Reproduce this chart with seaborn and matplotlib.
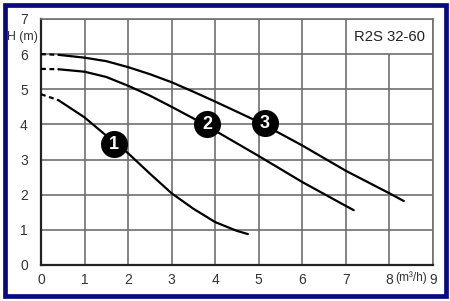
import matplotlib
matplotlib.use("Agg")
import matplotlib.pyplot as plt
import seaborn as sns
import pandas as pd
from matplotlib.patches import Rectangle

# ---- data ----
x_ticks = [0, 1, 2, 3, 4, 5, 6, 7, 8, 9]
y_ticks = [0, 1, 2, 3, 4, 5, 6, 7]

c1_dash_q = [0.0, 0.4]
c1_dash_h = [4.86, 4.69]
c1_q = [0.4, 1.0, 1.5, 2.0, 2.5, 3.0, 3.5, 4.0, 4.5, 4.75]
c1_h = [4.69, 4.20, 3.68, 3.18, 2.60, 2.04, 1.60, 1.22, 0.97, 0.88]

c2_dash_q = [0.0, 0.4]
c2_dash_h = [5.58, 5.57]
c2_q = [0.4, 1.0, 1.5, 2.0, 2.5, 3.0, 3.5, 4.0, 5.0, 6.0, 7.0, 7.18]
c2_h = [5.57, 5.50, 5.35, 5.10, 4.82, 4.50, 4.17, 3.82, 3.10, 2.36, 1.68, 1.56]

c3_dash_q = [0.0, 0.4]
c3_dash_h = [6.00, 5.98]
c3_q = [0.4, 1.0, 1.5, 2.0, 2.5, 3.0, 3.5, 4.0, 5.0, 6.0, 7.0, 8.0, 8.33]
c3_h = [5.98, 5.90, 5.80, 5.63, 5.43, 5.20, 4.93, 4.65, 4.07, 3.40, 2.68, 2.04, 1.82]

badge_labels = ["1", "2", "3"]
badge_q = [1.67, 3.81, 5.14]
badge_h = [3.44, 4.00, 4.03]

title = "R2S 32-60"
y_label = "H (m)"
x_label = "(m³/h)"

# ---- figure ----
sns.set_style("white")
plt.rcParams['font.family'] = ['Liberation Sans', 'DejaVu Sans']

fig = plt.figure(figsize=(4.5, 3.01), dpi=100)
ax = fig.add_axes([41/450, 1-265/301, (433-41)/450, (265-19)/301])

grid_col = "#707070"
ax.set_xlim(0, 9)
ax.set_ylim(0, 7)

# grid
for y in y_ticks[1:]:
    ax.axhline(y, color=grid_col, lw=1.2, zorder=1)
for x in x_ticks[1:]:
    top = 6 if x == 8 else 7
    ax.vlines(x, 0, top, color=grid_col, lw=1.2, zorder=1)

# curves
solids = [(c1_q, c1_h), (c2_q, c2_h), (c3_q, c3_h)]
dashes = [(c1_dash_q, c1_dash_h), (c2_dash_q, c2_dash_h), (c3_dash_q, c3_dash_h)]
for (q, h) in solids:
    sns.lineplot(x=q, y=h, ax=ax, color="black", lw=1.6, sort=False, zorder=3)
for (q, h) in dashes:
    sns.lineplot(x=q, y=h, ax=ax, color="black", lw=1.6, sort=False, zorder=3,
                 linestyle=(0, (2.2, 1.6)))

# badges
sns.scatterplot(x=badge_q, y=badge_h, ax=ax, color="black", s=380,
                edgecolor="black", linewidth=0, zorder=4)
for lab, q, h in zip(badge_labels, badge_q, badge_h):
    ax.text(q, h, lab, color="white", fontsize=13, fontweight="bold",
            ha="center", va="center", zorder=5)

# label box
ax.text(8.0, 6.5, title, fontsize=10.7, color="#222222", ha="center", va="center")

# spines
for s in ["top", "right"]:
    ax.spines[s].set_color(grid_col)
    ax.spines[s].set_linewidth(1.2)
for s in ["left", "bottom"]:
    ax.spines[s].set_color("#222222")
    ax.spines[s].set_linewidth(1.6)

ax.set_xticks(x_ticks)
ax.set_yticks(y_ticks)
ax.set_xticklabels([str(t) for t in x_ticks])
ax.set_yticklabels([str(t) for t in y_ticks])
ax.tick_params(axis="both", length=3, width=1, color="#444444",
               labelsize=10, labelcolor="#333333", pad=2.5)
ax.tick_params(axis="y", pad=6.5)
ax.set_xlabel("")
ax.set_ylabel("")

ax.text(-0.07, 6.5, y_label, fontsize=8.8, color="#333333", ha="right", va="center",
        clip_on=False)
ax.text(8.5, -0.37, x_label, fontsize=8.6, color="#333333", ha="center", va="center",
        clip_on=False)

# outer frame
fig.patches.append(Rectangle((4.5/450, 1-296/301), 441/450, 291/301,
                             transform=fig.transFigure, fill=False,
                             edgecolor="#0a0a80", linewidth=3.4))

fig.savefig("out.png", dpi=100)
